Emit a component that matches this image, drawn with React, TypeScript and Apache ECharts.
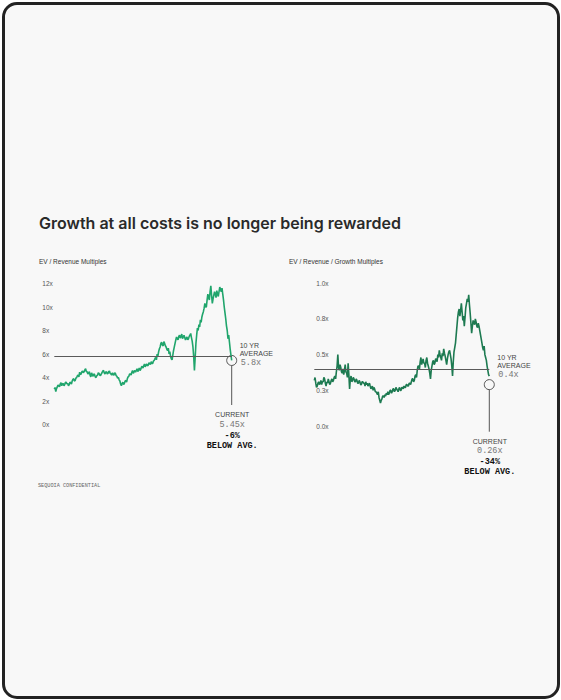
import React, { useEffect, useRef } from "react";
import * as echarts from "echarts";

// ---- Data ----
const TITLE = "Growth at all costs is no longer being rewarded";
const LEFT_SUBTITLE = "EV / Revenue Multiples";
const RIGHT_SUBTITLE = "EV / Revenue / Growth Multiples";
const FOOTER = "SEQUOIA CONFIDENTIAL";

// EV / Revenue multiples (x), ten years of readings
const evRevenue = [
  3.0, 3.15, 2.8, 3.05, 3.2, 3.35, 3.3, 3.2, 3.45, 3.55, 3.3, 3.45, 3.5, 3.3, 3.4, 3.6, 3.6, 3.45, 3.5, 3.3,
  3.4, 3.6, 3.55, 3.45, 3.7, 3.85, 3.9, 3.7, 3.75, 3.95, 4.0, 4.15, 4.2, 4.05, 4.45, 4.25, 4.3, 4.5, 4.55, 4.4,
  4.5, 4.65, 4.75, 4.5, 4.5, 4.3, 4.35, 4.5, 4.2, 4.05, 4.4, 4.25, 4.1, 4.3, 4.25, 4.05, 4.0, 4.15, 4.2, 4.4,
  4.35, 4.2, 4.15, 4.3, 4.4, 4.55, 4.6, 4.4, 4.3, 4.45, 4.5, 4.3, 4.35, 4.5, 4.55, 4.35, 4.3, 4.2, 4.4, 4.25,
  4.2, 4.4, 4.35, 4.15, 4.1, 3.95, 4.0, 3.8, 3.7, 3.45, 3.3, 3.5, 3.6, 3.4, 3.5, 3.7, 3.75, 3.6, 3.9, 4.05,
  4.1, 4.3, 4.3, 4.2, 4.45, 4.6, 4.35, 4.5, 4.6, 4.45, 4.6, 4.75, 4.5, 4.65, 4.8, 4.6, 4.7, 4.9, 4.95, 4.8,
  5.0, 5.15, 4.9, 5.05, 5.15, 5.0, 5.05, 5.25, 5.2, 5.1, 5.35, 5.2, 5.2, 5.4, 5.45, 5.6, 5.7, 5.5, 6.0, 5.85,
  6.2, 6.45, 6.6, 6.9, 7.0, 6.75, 6.7, 7.05, 6.9, 6.7, 6.6, 6.4, 6.3, 6.5, 6.0, 6.2, 5.8, 5.6, 5.5, 5.9,
  6.3, 6.6, 6.9, 7.2, 7.45, 7.3, 7.2, 7.5, 7.6, 7.35, 7.5, 7.7, 7.3, 7.45, 7.6, 7.4, 7.2, 7.35, 7.45, 7.2,
  7.3, 7.5, 7.6, 7.75, 7.4, 7.1, 6.6, 5.8, 4.6, 5.7, 6.9, 7.6, 8.2, 8.0, 8.5, 8.3, 8.9, 8.7, 9.15, 9.4,
  9.6, 9.9, 10.3, 10.0, 10.0, 10.6, 11.1, 10.8, 10.6, 11.3, 11.8, 11.0, 10.3, 10.7, 11.0, 11.3, 11.1, 10.8, 11.4, 11.1,
  10.9, 11.3, 11.7, 11.5, 11.3, 11.6, 11.1, 10.6, 10.0, 9.5, 9.0, 8.4, 8.0, 7.3, 7.6, 7.0, 6.4, 5.9, 5.45,
];

// EV / Revenue / Growth multiples (x)
const evRevenueGrowth = [
  0.32, 0.34, 0.30, 0.27, 0.28, 0.30, 0.31, 0.29, 0.30, 0.32, 0.29, 0.31, 0.31, 0.34, 0.33, 0.30, 0.28, 0.31, 0.30, 0.33,
  0.31, 0.29, 0.30, 0.32, 0.33, 0.31, 0.32, 0.34, 0.35, 0.33, 0.38, 0.42, 0.50, 0.41, 0.39, 0.43, 0.41, 0.38, 0.37, 0.40,
  0.36, 0.39, 0.43, 0.38, 0.37, 0.34, 0.44, 0.36, 0.26, 0.33, 0.35, 0.31, 0.32, 0.34, 0.33, 0.31, 0.31, 0.33, 0.32, 0.30,
  0.30, 0.32, 0.31, 0.29, 0.29, 0.31, 0.31, 0.30, 0.30, 0.28, 0.31, 0.29, 0.30, 0.28, 0.29, 0.30, 0.28, 0.26, 0.27, 0.28,
  0.25, 0.27, 0.26, 0.24, 0.24, 0.23, 0.22, 0.24, 0.20, 0.18, 0.16, 0.18, 0.19, 0.21, 0.21, 0.20, 0.22, 0.21, 0.23, 0.22,
  0.24, 0.22, 0.23, 0.25, 0.25, 0.23, 0.24, 0.26, 0.26, 0.24, 0.25, 0.27, 0.26, 0.25, 0.24, 0.26, 0.27, 0.25, 0.25, 0.27,
  0.27, 0.26, 0.28, 0.27, 0.27, 0.29, 0.29, 0.28, 0.28, 0.30, 0.30, 0.29, 0.31, 0.33, 0.33, 0.31, 0.32, 0.35, 0.36, 0.34,
  0.39, 0.42, 0.42, 0.40, 0.45, 0.48, 0.43, 0.45, 0.47, 0.44, 0.44, 0.41, 0.46, 0.48, 0.44, 0.42, 0.40, 0.37, 0.33, 0.39,
  0.42, 0.45, 0.46, 0.43, 0.44, 0.47, 0.47, 0.45, 0.50, 0.48, 0.53, 0.50, 0.48, 0.46, 0.51, 0.49, 0.54, 0.51, 0.49, 0.46,
  0.43, 0.47, 0.50, 0.52, 0.53, 0.50, 0.47, 0.42, 0.35, 0.45, 0.52, 0.55, 0.58, 0.64, 0.70, 0.76, 0.80, 0.82, 0.77, 0.81,
  0.86, 0.80, 0.74, 0.77, 0.70, 0.76, 0.83, 0.86, 0.89, 0.87, 0.92, 0.85, 0.79, 0.72, 0.65, 0.70, 0.74, 0.72, 0.71, 0.75,
  0.73, 0.70, 0.69, 0.72, 0.70, 0.67, 0.64, 0.61, 0.58, 0.55, 0.53, 0.56, 0.50, 0.48, 0.46, 0.42, 0.39, 0.36, 0.35,
];

const LEFT_AVG = 5.8;
const LEFT_CURRENT = 5.45;
const LEFT_DIFF = "-6%";
const RIGHT_AVG = 0.4;
const RIGHT_CURRENT = 0.26;
const RIGHT_MARKER = 0.29; // where the current-value ring sits in the picture
const RIGHT_DIFF = "-34%";

const LEFT_Y = { min: 0, max: 12, interval: 2 };
const RIGHT_Y = { min: 0, max: 1, interval: 0.25 };

const SANS = "Inter, 'Liberation Sans', Arial, sans-serif";
const LABEL_SANS = "'Liberation Sans', Arial, sans-serif";
const MONO = "'Liberation Mono', 'DejaVu Sans Mono', monospace";

export default function App() {
  const ref = useRef<HTMLDivElement>(null);

  useEffect(() => {
    if (!ref.current) return;
    const chart = echarts.init(ref.current, undefined, { renderer: "svg" });

    const avgLine = (n: number, v: number) => ({
      silent: true,
      symbol: ["none", "none"],
      label: { show: false },
      lineStyle: { color: "#5a5a5a", width: 1, type: "solid" },
      data: [[{ coord: [0, v] }, { coord: [n - 1, v] }]],
    });

    chart.setOption({
      animation: false,
      backgroundColor: "transparent",
      grid: [
        { left: 54.3, right: 561 - 231.7, top: 283.5, height: 141 },
        { left: 314.3, right: 561 - 489.3, top: 283.3, height: 142.7 },
      ],
      xAxis: [
        { type: "value", gridIndex: 0, min: 0, max: evRevenue.length - 1, show: false },
        { type: "value", gridIndex: 1, min: 0, max: evRevenueGrowth.length - 1, show: false },
      ],
      yAxis: [
        {
          type: "value",
          gridIndex: 0,
          ...LEFT_Y,
          splitLine: { show: false },
          axisLine: { show: false },
          axisTick: { show: false },
          axisLabel: {
            align: "left",
            margin: 12,
            fontSize: 6.5,
            color: "#555",
            fontFamily: LABEL_SANS,
            formatter: (v: number) => `${v}x`,
          },
        },
        {
          type: "value",
          gridIndex: 1,
          ...RIGHT_Y,
          splitLine: { show: false },
          axisLine: { show: false },
          axisTick: { show: false },
          axisLabel: {
            inside: true,
            align: "left",
            margin: 2,
            fontSize: 6.5,
            color: "#555",
            fontFamily: LABEL_SANS,
            formatter: (v: number) => `${v.toFixed(1)}x`,
          },
        },
      ],
      series: [
        {
          type: "line",
          xAxisIndex: 0,
          yAxisIndex: 0,
          showSymbol: false,
          data: evRevenue.map((v, i) => [i, v]),
          lineStyle: { color: "#20a56c", width: 1.6 },
          itemStyle: { color: "#20a56c" },
          markLine: avgLine(evRevenue.length, LEFT_AVG),
        },
        {
          type: "line",
          xAxisIndex: 1,
          yAxisIndex: 1,
          showSymbol: false,
          data: evRevenueGrowth.map((v, i) => [i, v]),
          lineStyle: { color: "#1d7a51", width: 1.6 },
          itemStyle: { color: "#1d7a51" },
          markLine: avgLine(evRevenueGrowth.length, RIGHT_AVG),
        },
      ],
    });

    const pL = chart.convertToPixel({ seriesIndex: 0 }, [evRevenue.length - 1, LEFT_CURRENT]) as number[];
    const pR = chart.convertToPixel({ seriesIndex: 1 }, [evRevenueGrowth.length - 1, RIGHT_MARKER]) as number[];
    const R = 5;

    const txt = (
      text: string,
      x: number,
      y: number,
      opts: { size: number; family: string; weight?: string | number; fill: string; align?: string }
    ) => ({
      type: "text",
      x,
      y,
      silent: true,
      style: {
        text,
        fontSize: opts.size,
        fontFamily: opts.family,
        fontWeight: opts.weight ?? "normal",
        fill: opts.fill,
        align: opts.align ?? "left",
        verticalAlign: "middle",
      },
    });

    const annotations = (
      p: number[],
      avgText: string,
      avgY: number,
      bottomY: number,
      curText: string,
      diffText: string
    ) => [
      { type: "circle", shape: { cx: p[0], cy: p[1], r: R }, style: { fill: "none", stroke: "#555", lineWidth: 1 }, silent: true },
      { type: "line", shape: { x1: p[0], y1: p[1] + R, x2: p[0], y2: bottomY }, style: { stroke: "#555", lineWidth: 1 }, silent: true },
      txt("10 YR", p[0] + 8, avgY, { size: 7, family: LABEL_SANS, fill: "#444" }),
      txt("AVERAGE", p[0] + 8, avgY + 7.7, { size: 7, family: LABEL_SANS, fill: "#444" }),
      txt(avgText, p[0] + 9, avgY + 17.7, { size: 8.5, family: MONO, fill: "#777" }),
      txt("CURRENT", p[0] + 0.5, bottomY + 9.5, { size: 7, family: LABEL_SANS, fill: "#444", align: "center" }),
      txt(curText, p[0] + 0.5, bottomY + 19.5, { size: 8.5, family: MONO, fill: "#777", align: "center" }),
      txt(diffText, p[0] + 0.5, bottomY + 30.5, { size: 8.5, family: MONO, weight: "bold", fill: "#111", align: "center" }),
      txt("BELOW AVG.", p[0] + 0.5, bottomY + 40.5, { size: 8.5, family: MONO, weight: "bold", fill: "#111", align: "center" }),
    ];

    chart.setOption({
      graphic: [
        txt(TITLE, 39, 223, { size: 16, family: SANS, weight: 600, fill: "#2a2a2a" }),
        txt(LEFT_SUBTITLE, 39, 261, { size: 6.5, family: LABEL_SANS, fill: "#333" }),
        txt(RIGHT_SUBTITLE, 289, 261, { size: 6.5, family: LABEL_SANS, fill: "#333" }),
        txt(FOOTER, 38, 486, { size: 5.2, family: MONO, fill: "#666" }),
        ...annotations(pL, `${LEFT_AVG}x`, 345.7, 405, `${LEFT_CURRENT}x`, LEFT_DIFF),
        ...annotations(pR, `${RIGHT_AVG}x`, 357.5, 431.7, `${RIGHT_CURRENT}x`, RIGHT_DIFF),
      ],
    });

    return () => chart.dispose();
  }, []);

  return (
    <div style={{ position: "fixed", left: 0, top: 0, width: 561, height: 700, background: "#ffffff" }}>
      <div
        style={{
          position: "absolute",
          left: 1.5,
          top: 1.5,
          width: 558,
          height: 697,
          boxSizing: "border-box",
          border: "3px solid #222",
          borderRadius: 15,
          background: "#f8f8f8",
        }}
      />
      <div ref={ref} style={{ position: "absolute", left: 0, top: 0, width: 561, height: 700 }} />
    </div>
  );
}
